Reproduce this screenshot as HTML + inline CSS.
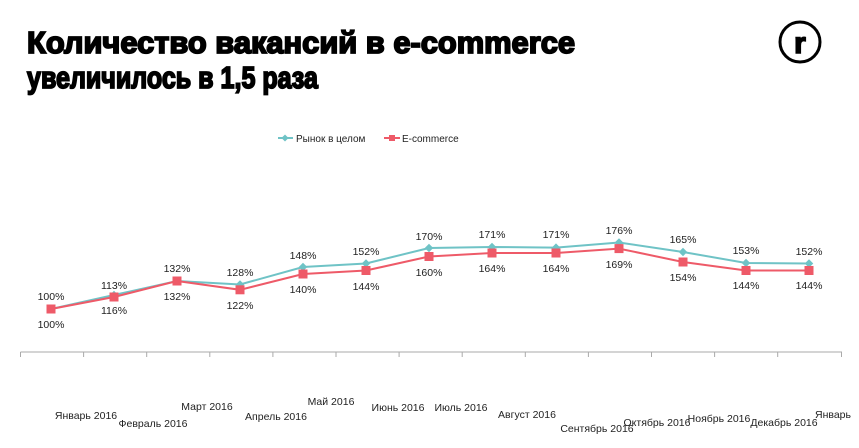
<!DOCTYPE html>
<html><head><meta charset="utf-8"><style>
html,body{margin:0;padding:0;background:#fff;}
svg{display:block;font-family:"Liberation Sans",sans-serif;}
</style></head><body>
<svg width="859" height="448" viewBox="0 0 859 448">
<text x="27" y="53" font-size="31" font-weight="bold" textLength="548" lengthAdjust="spacingAndGlyphs" stroke="#000" stroke-width="1.8">Количество  вакансий в e-commerce</text>
<text x="27" y="88" font-size="31" font-weight="bold" textLength="291" lengthAdjust="spacingAndGlyphs" stroke="#000" stroke-width="1.8">увеличилось в 1,5 раза</text>
<circle cx="800" cy="42" r="20" fill="none" stroke="#000" stroke-width="3"/>
<text x="800" y="53" font-size="30" font-weight="bold" text-anchor="middle" stroke="#000" stroke-width="1.5">r</text>
<line x1="278" y1="138" x2="293" y2="138" stroke="#6fc3c6" stroke-width="2"/><rect x="282.5" y="135.5" width="5" height="5" fill="#6fc3c6" transform="rotate(45 285 138)"/>
<text x="296" y="142" font-size="10" fill="#222">Рынок в целом</text>
<line x1="384" y1="138" x2="400" y2="138" stroke="#ee5a68" stroke-width="2"/><rect x="389" y="135" width="6" height="6" fill="#ee5a68"/>
<text x="402" y="142" font-size="10" fill="#222">E-commerce</text>
<g stroke="#aaa" stroke-width="1">
<line x1="20.5" y1="352" x2="842" y2="352"/>
<path d="M20.5 352v5M83.6 352v5M146.7 352v5M209.8 352v5M272.9 352v5M336 352v5M399.1 352v5M462.2 352v5M525.3 352v5M588.4 352v5M651.5 352v5M714.6 352v5M777.7 352v5M841.5 352v5"/>
</g>
<g font-size="10.5" fill="#222" text-anchor="middle">
<text x="86" y="419">Январь 2016</text>
<text x="153" y="427">Февраль 2016</text>
<text x="207" y="410">Март 2016</text>
<text x="276" y="420">Апрель 2016</text>
<text x="331" y="405">Май 2016</text>
<text x="398" y="411">Июнь 2016</text>
<text x="461" y="411">Июль 2016</text>
<text x="527" y="418">Август 2016</text>
<text x="597" y="432">Сентябрь 2016</text>
<text x="657" y="426">Октябрь 2016</text>
<text x="719" y="422">Ноябрь 2016</text>
<text x="784" y="426">Декабрь 2016</text>
<text x="815" y="418" text-anchor="start">Январь</text>
</g>
<g font-size="10.5" fill="#222" text-anchor="middle">
<polyline fill="none" stroke="#6fc3c6" stroke-width="2" points="51,309 114,295 177,281 240,284.5 303,267 366,263.5 429,248 492,247 556,247.6 619,242.5 683,252 746,263 809,263.5"/>
<polyline fill="none" stroke="#ee5a68" stroke-width="2" points="51,309 114,297 177,281 240,289.8 303,274 366,270.5 429,256.5 492,253 556,253 619,248.6 683,262 746,270.5 809,270.5"/>
<g fill="#6fc3c6">
<rect x="-3" y="-3" width="6" height="6" transform="translate(51 309) rotate(45)"/><rect x="-3" y="-3" width="6" height="6" transform="translate(114 295) rotate(45)"/><rect x="-3" y="-3" width="6" height="6" transform="translate(177 281) rotate(45)"/><rect x="-3" y="-3" width="6" height="6" transform="translate(240 284.5) rotate(45)"/><rect x="-3" y="-3" width="6" height="6" transform="translate(303 267) rotate(45)"/><rect x="-3" y="-3" width="6" height="6" transform="translate(366 263.5) rotate(45)"/><rect x="-3" y="-3" width="6" height="6" transform="translate(429 248) rotate(45)"/><rect x="-3" y="-3" width="6" height="6" transform="translate(492 247) rotate(45)"/><rect x="-3" y="-3" width="6" height="6" transform="translate(556 247.6) rotate(45)"/><rect x="-3" y="-3" width="6" height="6" transform="translate(619 242.5) rotate(45)"/><rect x="-3" y="-3" width="6" height="6" transform="translate(683 252) rotate(45)"/><rect x="-3" y="-3" width="6" height="6" transform="translate(746 263) rotate(45)"/><rect x="-3" y="-3" width="6" height="6" transform="translate(809 263.5) rotate(45)"/>
</g>
<g fill="#ee5a68">
<rect x="46.5" y="304.5" width="9" height="9"/><rect x="109.5" y="292.5" width="9" height="9"/><rect x="172.5" y="276.5" width="9" height="9"/><rect x="235.5" y="285.3" width="9" height="9"/><rect x="298.5" y="269.5" width="9" height="9"/><rect x="361.5" y="266" width="9" height="9"/><rect x="424.5" y="252" width="9" height="9"/><rect x="487.5" y="248.5" width="9" height="9"/><rect x="551.5" y="248.5" width="9" height="9"/><rect x="614.5" y="244.1" width="9" height="9"/><rect x="678.5" y="257.5" width="9" height="9"/><rect x="741.5" y="266" width="9" height="9"/><rect x="804.5" y="266" width="9" height="9"/>
</g>
<text x="51" y="300">100%</text><text x="51" y="328">100%</text>
<text x="114" y="289">113%</text><text x="114" y="314">116%</text>
<text x="177" y="272">132%</text><text x="177" y="300">132%</text>
<text x="240" y="276">128%</text><text x="240" y="309">122%</text>
<text x="303" y="259">148%</text><text x="303" y="293">140%</text>
<text x="366" y="255">152%</text><text x="366" y="290">144%</text>
<text x="429" y="240">170%</text><text x="429" y="276">160%</text>
<text x="492" y="238">171%</text><text x="492" y="272">164%</text>
<text x="556" y="238">171%</text><text x="556" y="272">164%</text>
<text x="619" y="234">176%</text><text x="619" y="268">169%</text>
<text x="683" y="243">165%</text><text x="683" y="281">154%</text>
<text x="746" y="254">153%</text><text x="746" y="289">144%</text>
<text x="809" y="255">152%</text><text x="809" y="289">144%</text>
</g>
</svg>
</body></html>
